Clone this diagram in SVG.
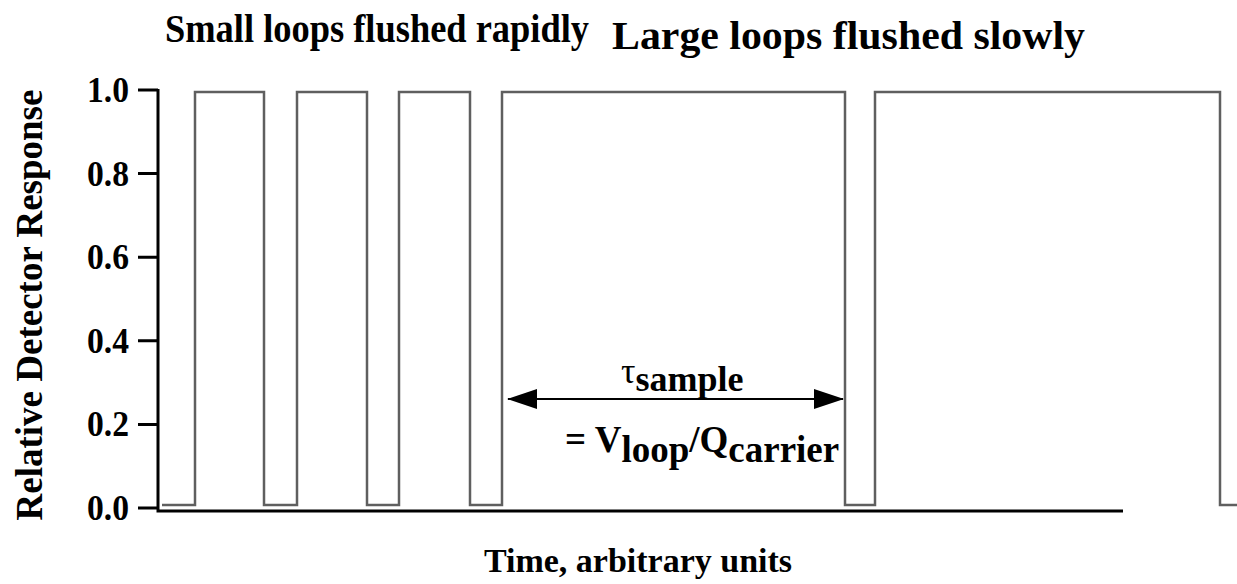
<svg xmlns="http://www.w3.org/2000/svg" width="1237" height="584" viewBox="0 0 1237 584">
  <style>
    text { font-family: "Liberation Serif", "Times New Roman", Times, serif; font-weight: bold; fill: #000; }
    .tick { font-size: 36px; text-anchor: end; }
    .axis { stroke: #000; stroke-width: 3; fill: none; }
    .signal { stroke: #5f5f5f; stroke-width: 2.5; fill: none; stroke-linejoin: miter; }
  </style>
  <defs>
    <marker id="head" viewBox="0 0 30 20" refX="29" refY="10" markerWidth="30" markerHeight="20" markerUnits="userSpaceOnUse" orient="auto-start-reverse">
      <path d="M0,0 L30,10 L0,20 Z" fill="#000"/>
    </marker>
  </defs>
  <rect width="1237" height="584" fill="#fff"/>

  <!-- titles -->
  <g id="titles" font-family="Liberation Serif, serif">
    <text x="165" y="42" font-size="41" textLength="424" lengthAdjust="spacingAndGlyphs">Small loops flushed rapidly</text>
    <text x="612" y="49" font-size="39" textLength="473" lengthAdjust="spacingAndGlyphs">Large loops flushed slowly</text>
  </g>

  <!-- axes and ticks -->
  <g id="axes">
    <path class="axis" d="M158,89 V511 H1123"/>
    <path class="axis" d="M138,90 H158 M138,173.6 H158 M138,257.2 H158 M138,340.8 H158 M138,424.4 H158 M138,508 H158"/>
  </g>
  <g id="tick-labels" font-family="Liberation Serif, serif">
    <text class="tick" x="129" y="102" textLength="42" lengthAdjust="spacingAndGlyphs">1.0</text>
    <text class="tick" x="129" y="185.6" textLength="42" lengthAdjust="spacingAndGlyphs">0.8</text>
    <text class="tick" x="129" y="269.2" textLength="42" lengthAdjust="spacingAndGlyphs">0.6</text>
    <text class="tick" x="129" y="352.8" textLength="42" lengthAdjust="spacingAndGlyphs">0.4</text>
    <text class="tick" x="129" y="436.4" textLength="42" lengthAdjust="spacingAndGlyphs">0.2</text>
    <text class="tick" x="129" y="520" textLength="42" lengthAdjust="spacingAndGlyphs">0.0</text>
  </g>
  <text font-family="Liberation Serif, serif" font-size="37" text-anchor="middle" transform="translate(42,305) rotate(-90)">Relative Detector Response</text>

  <!-- detector response trace -->
  <g id="trace">
    <path class="signal" d="M162,505 H195 V92 H264 V505 H297 V92 H367 V505 H399 V92 H470 V505 H502 V92 H845 V505 H875 V92 H1220 V505 H1237"/>
  </g>

  <!-- sample time annotation -->
  <g id="connectors">
    <line x1="508" y1="399" x2="843" y2="399" stroke="#000" stroke-width="2.2" marker-start="url(#head)" marker-end="url(#head)"/>
  </g>
  <g id="tau-label">
    <text font-family="Liberation Serif, serif" x="621" y="383" font-size="36"><tspan font-weight="normal">τ</tspan><tspan dy="8">sample</tspan></text>
  </g>
  <g id="formula">
    <text font-family="Liberation Serif, serif" x="565" y="452" font-size="37">= V<tspan dy="10">loop</tspan><tspan dy="-10">/Q</tspan><tspan dy="10">carrier</tspan></text>
  </g>

  <text font-family="Liberation Serif, serif" x="638" y="572" font-size="34" text-anchor="middle">Time, arbitrary units</text>
</svg>
